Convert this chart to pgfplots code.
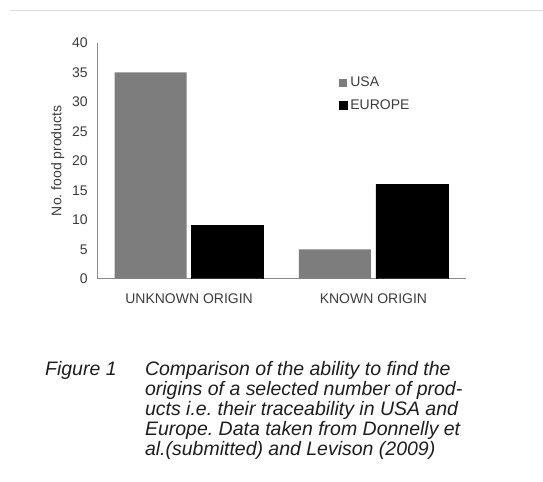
\documentclass[border=0pt]{standalone}
\usepackage{fontspec}
\setmainfont{Liberation Sans}
\usepackage{pgfplots}
\pgfplotsset{compat=1.18}
\definecolor{usagray}{RGB}{125,125,125}
\definecolor{txt}{RGB}{60,60,60}
\definecolor{captxt}{RGB}{30,30,30}
\frenchspacing
\begin{document}
\begin{tikzpicture}[x=1bp,y=1bp]
\fill[white] (0,0) rectangle (543,482);
\draw[black!12, line width=1bp] (10,471) -- (543,471);
\begin{axis}[
  at={(97bp,203bp)}, anchor=south west,
  scale only axis, width=369bp, height=236bp,
  xmin=-0.5, xmax=1.5, ymin=0, ymax=40,
  ytick={0,5,...,40}, xtick={0,1},
  xticklabels={UNKNOWN ORIGIN, KNOWN ORIGIN},
  axis lines*=left,
  axis line style={black!45, line width=0.8bp, -},
  major tick length=0pt,
  /pgf/number format/assume math mode=true,
  tick label style={font=\fontsize{14bp}{16bp}\selectfont, text=txt},
  yticklabel style={anchor=east, inner sep=0pt, xshift=-9bp},
  xticklabel style={anchor=north, inner sep=0pt, yshift=-15bp},
  ylabel={No. food products},
  ylabel style={at={(axis description cs:-0.106,0.5)}, anchor=center, font=\fontsize{14bp}{16bp}\selectfont, text=txt},
  legend style={at={(axis description cs:0.656,0.864)}, anchor=north west, draw=none, fill=none,
    font=\fontsize{14bp}{16bp}\selectfont, text=txt, inner sep=0pt,
    row sep=7bp, legend cell align=left,
    /tikz/every even column/.append style={column sep=2bp}},
  legend image code/.code={\fill[#1] (0bp,-4bp) rectangle (8bp,4bp);},
  legend style={nodes={inner xsep=3bp}},
]
\addplot[ybar, bar width=72bp, bar shift=-38.5bp, fill=usagray, draw=none] coordinates {(0,35) (1,5)};
\addplot[ybar, bar width=72bp, bar shift=38.5bp, fill=black, draw=black] coordinates {(0,9) (1,16)};
\legend{USA, EUROPE}
\end{axis}
\begin{scope}[every node/.style={anchor=base west, inner sep=0pt, text=captxt, font=\fontsize{19.5bp}{20bp}\selectfont\itshape}]
\node at (45,106) {Figure 1};
\node at (145,106) {Comparison of the ability to find the};
\node at (145,86) {origins of a selected number of prod-};
\node at (145,66) {ucts i.e. their traceability in USA and};
\node at (145,46) {Europe. Data taken from Donnelly et};
\node at (145,26) {al.(submitted) and Levison (2009)};
\end{scope}
\end{tikzpicture}
\end{document}
